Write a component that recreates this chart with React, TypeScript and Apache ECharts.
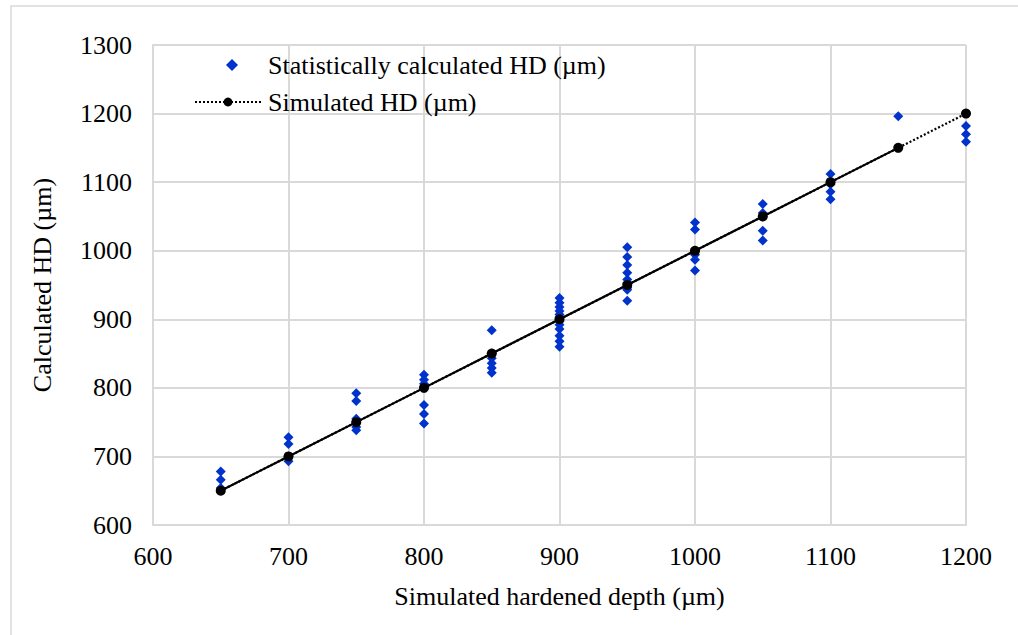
import React, { useEffect, useRef } from "react";
import * as echarts from "echarts";

// Simulated hardened depths (µm) and the simulated HD line
const simDepth = [650, 700, 750, 800, 850, 900, 950, 1000, 1050, 1100, 1150, 1200];
const simHD = [650, 700, 750, 800, 850, 900, 950, 1000, 1050, 1100, 1150, 1200];

// Statistically calculated HD (µm) at each simulated depth
const calc650 = [678, 666, 654];
const calc700 = [728, 718, 700, 693];
const calc750 = [792, 781, 755, 750, 743, 738];
const calc800 = [819, 812, 806, 800, 775, 762, 748];
const calc850 = [884, 850, 843, 836, 829, 822];
const calc900 = [931, 924, 918, 912, 907, 903, 897, 892, 886, 876, 868, 860];
const calc950 = [1005, 991, 979, 968, 958, 953, 946, 943, 927];
const calc1000 = [1041, 1031, 1000, 994, 987, 971];
const calc1050 = [1068, 1055, 1050, 1029, 1015];
const calc1100 = [1112, 1100, 1097, 1086, 1075];
const calc1150 = [1196];
const calc1200 = [1182, 1170, 1159];

const calcGroups: [number, number[]][] = [
  [650, calc650], [700, calc700], [750, calc750], [800, calc800],
  [850, calc850], [900, calc900], [950, calc950], [1000, calc1000],
  [1050, calc1050], [1100, calc1100], [1150, calc1150], [1200, calc1200],
];

const xTicks = { min: 600, max: 1200, interval: 100 };
const yTicks = { min: 600, max: 1300, interval: 100 };

const STAT_NAME = "Statistically calculated HD (µm)";
const SIM_NAME = "Simulated HD (µm)";
const FONT = "Liberation Serif";
const FS = 26;

export default function App() {
  const ref = useRef<HTMLDivElement>(null);
  useEffect(() => {
    if (!ref.current) return;
    const chart = echarts.init(ref.current, undefined, { renderer: "svg" });
    const statData: number[][] = [];
    calcGroups.forEach(([x, ys]) => ys.forEach((y) => statData.push([x, y])));
    const simData = simDepth.map((x, i) => [x, simHD[i]]);
    const fitData = simData.slice(0, 11);
    const plain = (v: number) => String(v);
    chart.setOption({
      animation: false,
      backgroundColor: "#ffffff",
      textStyle: { fontFamily: FONT },
      graphic: [
        {
          type: "rect",
          shape: { x: 11, y: 6, width: 1100, height: 700 },
          style: { fill: "none", stroke: "#d9d9d9", lineWidth: 1.5 },
          silent: true,
        },
      ],
      grid: { left: 153, right: 52, top: 45, bottom: 110, containLabel: false },
      legend: [
        {
          left: 221,
          top: 47,
          itemWidth: 12,
          itemHeight: 12,
          data: [STAT_NAME],
          textStyle: { fontFamily: FONT, fontSize: FS, color: "#000", padding: [0, 0, 0, 25] },
        },
        {
          left: 189,
          top: 84,
          itemWidth: 66,
          itemHeight: 11,
          data: [SIM_NAME],
          textStyle: { fontFamily: FONT, fontSize: FS, color: "#000", padding: [0, 0, 0, 2] },
        },
      ],
      xAxis: {
        type: "value",
        min: xTicks.min,
        max: xTicks.max,
        interval: xTicks.interval,
        name: "Simulated hardened depth (µm)",
        nameLocation: "middle",
        nameGap: 58,
        nameTextStyle: { fontFamily: FONT, fontSize: FS, color: "#000" },
        axisLine: { show: true, lineStyle: { color: "#d9d9d9", width: 2 } },
        axisTick: { show: false },
        axisLabel: { fontFamily: FONT, fontSize: FS, color: "#000", margin: 18, formatter: plain },
        splitLine: { show: true, lineStyle: { color: "#d9d9d9", width: 2 } },
      },
      yAxis: {
        type: "value",
        min: yTicks.min,
        max: yTicks.max,
        interval: yTicks.interval,
        name: "Calculated HD (µm)",
        nameLocation: "middle",
        nameGap: 98,
        nameTextStyle: { fontFamily: FONT, fontSize: FS, color: "#000" },
        axisLine: { show: true, lineStyle: { color: "#d9d9d9", width: 2 } },
        axisTick: { show: false },
        axisLabel: { fontFamily: FONT, fontSize: FS, color: "#000", margin: 21, formatter: plain },
        splitLine: { show: true, lineStyle: { color: "#d9d9d9", width: 2 } },
      },
      series: [
        {
          name: STAT_NAME,
          type: "scatter",
          symbol: "diamond",
          symbolSize: 10,
          symbolKeepAspect: true,
          itemStyle: { color: "#0033cc", opacity: 1 },
          data: statData,
          z: 3,
        },
        {
          name: "fit",
          type: "line",
          showSymbol: false,
          symbol: "none",
          lineStyle: { color: "#000", width: 2.2, type: "solid" },
          data: fitData,
          z: 4,
        },
        {
          name: SIM_NAME,
          type: "line",
          symbol: "circle",
          symbolSize: 10,
          itemStyle: { color: "#000" },
          lineStyle: { color: "#000", width: 2.2, type: [2, 2] },
          data: simData,
          z: 5,
        },
      ],
    });
    return () => chart.dispose();
  }, []);
  return (
    <div
      ref={ref}
      style={{ position: "absolute", left: 0, top: 0, width: 1018, height: 635 }}
    />
  );
}
